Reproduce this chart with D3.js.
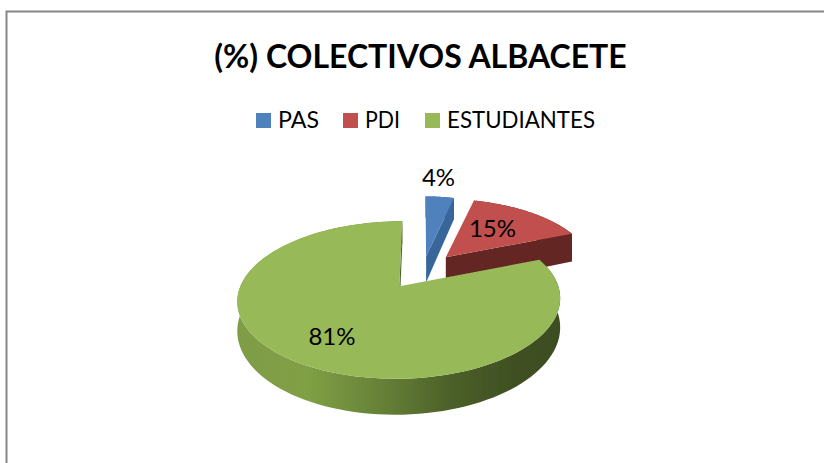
<!DOCTYPE html>
<html>
<head>
<meta charset="utf-8">
<script src="https://cdn.jsdelivr.net/npm/d3@7"></script>
<style>
  html, body { margin: 0; padding: 0; background: #fff; }
  text { font-family: Lato, "Open Sans", sans-serif; fill: #000; }
</style>
</head>
<body>
<div id="chart"></div>
<script>
const chartTitle = "(%) COLECTIVOS ALBACETE";
const categories = ["PAS", "PDI", "ESTUDIANTES"];
const values = [4, 15, 81];
const topColors = ["#4f81bd", "#c0504d", "#98b958"];
const wallColors = ["#37659a", "#632523", "#4a5e2a"];

const width = 824, height = 463;

// tilted pie: plane coords (unit radius) -> screen
const cam = { cx: 419, cy: 272.7, ax: 154, by: 71.7, k: 0.17 };
const explode = 0.22;
const depthBase = 27, depthPow = 1.28;

// small per slice corrections, the original is not a clean projection
const sliceFit = [
    { dx: 3, dy: -1, rx: 0.9, ry: 1.06, depth: 1 },
    { dx: 5, dy: -4, rx: 0.97, ry: 1, depth: 1.15 },
    { dx: 0, dy: 0, rx: 1, ry: 1, depth: 1 }
];

function project(u, v, lower, fit) {
    const w = 1 - cam.k * v;
    const x = cam.cx + fit.dx + cam.ax * u / w;
    let y = cam.cy + fit.dy + cam.by * v / w;
    if (lower) y += fit.depth * depthBase / Math.pow(w, depthPow);
    return [x, y];
}

const svg = d3.select("#chart")
    .append("svg")
    .attr("width", width)
    .attr("height", height)
    .style("display", "block");

// chart frame, only top and left are in view
svg.append("path")
    .attr("d", `M6.5,${height}V11.5H${width}`)
    .attr("fill", "none")
    .attr("stroke", "#868686")
    .attr("stroke-width", 2);

svg.append("text")
    .attr("x", 420.5)
    .attr("y", 68)
    .attr("text-anchor", "middle")
    .style("font-size", "32px")
    .style("font-weight", "700")
    .text(chartTitle);

// legend
const legendX = [256, 343, 425];
const legendLen = [41, 35, 148];
const legend = svg.append("g");
categories.forEach((c, i) => {
    legend.append("rect")
        .attr("x", legendX[i]).attr("y", 113)
        .attr("width", 15).attr("height", 15)
        .attr("fill", topColors[i]);
    legend.append("text")
        .attr("x", legendX[i] + 22).attr("y", 128)
        .attr("textLength", legendLen[i])
        .attr("lengthAdjust", "spacingAndGlyphs")
        .style("font-size", "24px")
        .text(c);
});

const defs = svg.append("defs");

// the reference is a soft, slightly blurred image
defs.append("filter")
    .attr("id", "soft")
    .append("feGaussianBlur")
    .attr("stdDeviation", 0.5);

// wall shading of the big slice
const grad = defs.append("linearGradient")
    .attr("id", "wall-green")
    .attr("gradientUnits", "userSpaceOnUse")
    .attr("x1", 237).attr("x2", 560).attr("y1", 0).attr("y2", 0);
[[0, "#7f9c47"], [0.22, "#80a045"], [0.48, "#627c35"], [0.66, "#4c6029"], [0.85, "#3f5023"], [1, "#3e4e24"]]
    .forEach(s => grad.append("stop").attr("offset", s[0]).attr("stop-color", s[1]));

const pie = d3.pie().sort(null);
const slices = pie(values);
const line = d3.line();
const pieGroup = svg.append("g").attr("filter", "url(#soft)");

slices.forEach((s, i) => {
    const fit = sliceFit[i];
    const mid = (s.startAngle + s.endAngle) / 2;
    const ou = explode * Math.sin(mid), ov = -explode * Math.cos(mid);
    const rimAngles = d3.range(0, 121).map(t => s.startAngle + (s.endAngle - s.startAngle) * t / 120);
    const rim = lower => rimAngles.map(a => project(ou + fit.rx * Math.sin(a), ov - fit.ry * Math.cos(a), lower, fit));
    const apex = lower => project(ou, ov, lower, fit);

    const g = pieGroup.append("g").attr("class", "slice");
    const wallFill = i === 2 ? "url(#wall-green)" : wallColors[i];

    // outer wall
    g.append("path")
        .attr("d", line(rim(false).concat(rim(true).reverse())) + "Z")
        .attr("fill", wallFill);

    // cut face at the end of the slice
    const top = rim(false), bottom = rim(true);
    g.append("path")
        .attr("d", line([apex(false), top[120], bottom[120], apex(true)]) + "Z")
        .attr("fill", wallColors[i]);

    // top face
    g.append("path")
        .attr("d", line([apex(false)].concat(top)) + "Z")
        .attr("fill", topColors[i]);
});

// data labels
const labelPos = [[438.5, 186], [492.5, 237], [332, 345]];
values.forEach((v, i) => {
    svg.append("text")
        .attr("x", labelPos[i][0]).attr("y", labelPos[i][1])
        .attr("text-anchor", "middle")
        .style("font-size", "24px")
        .text(v + "%");
});
</script>
</body>
</html>
